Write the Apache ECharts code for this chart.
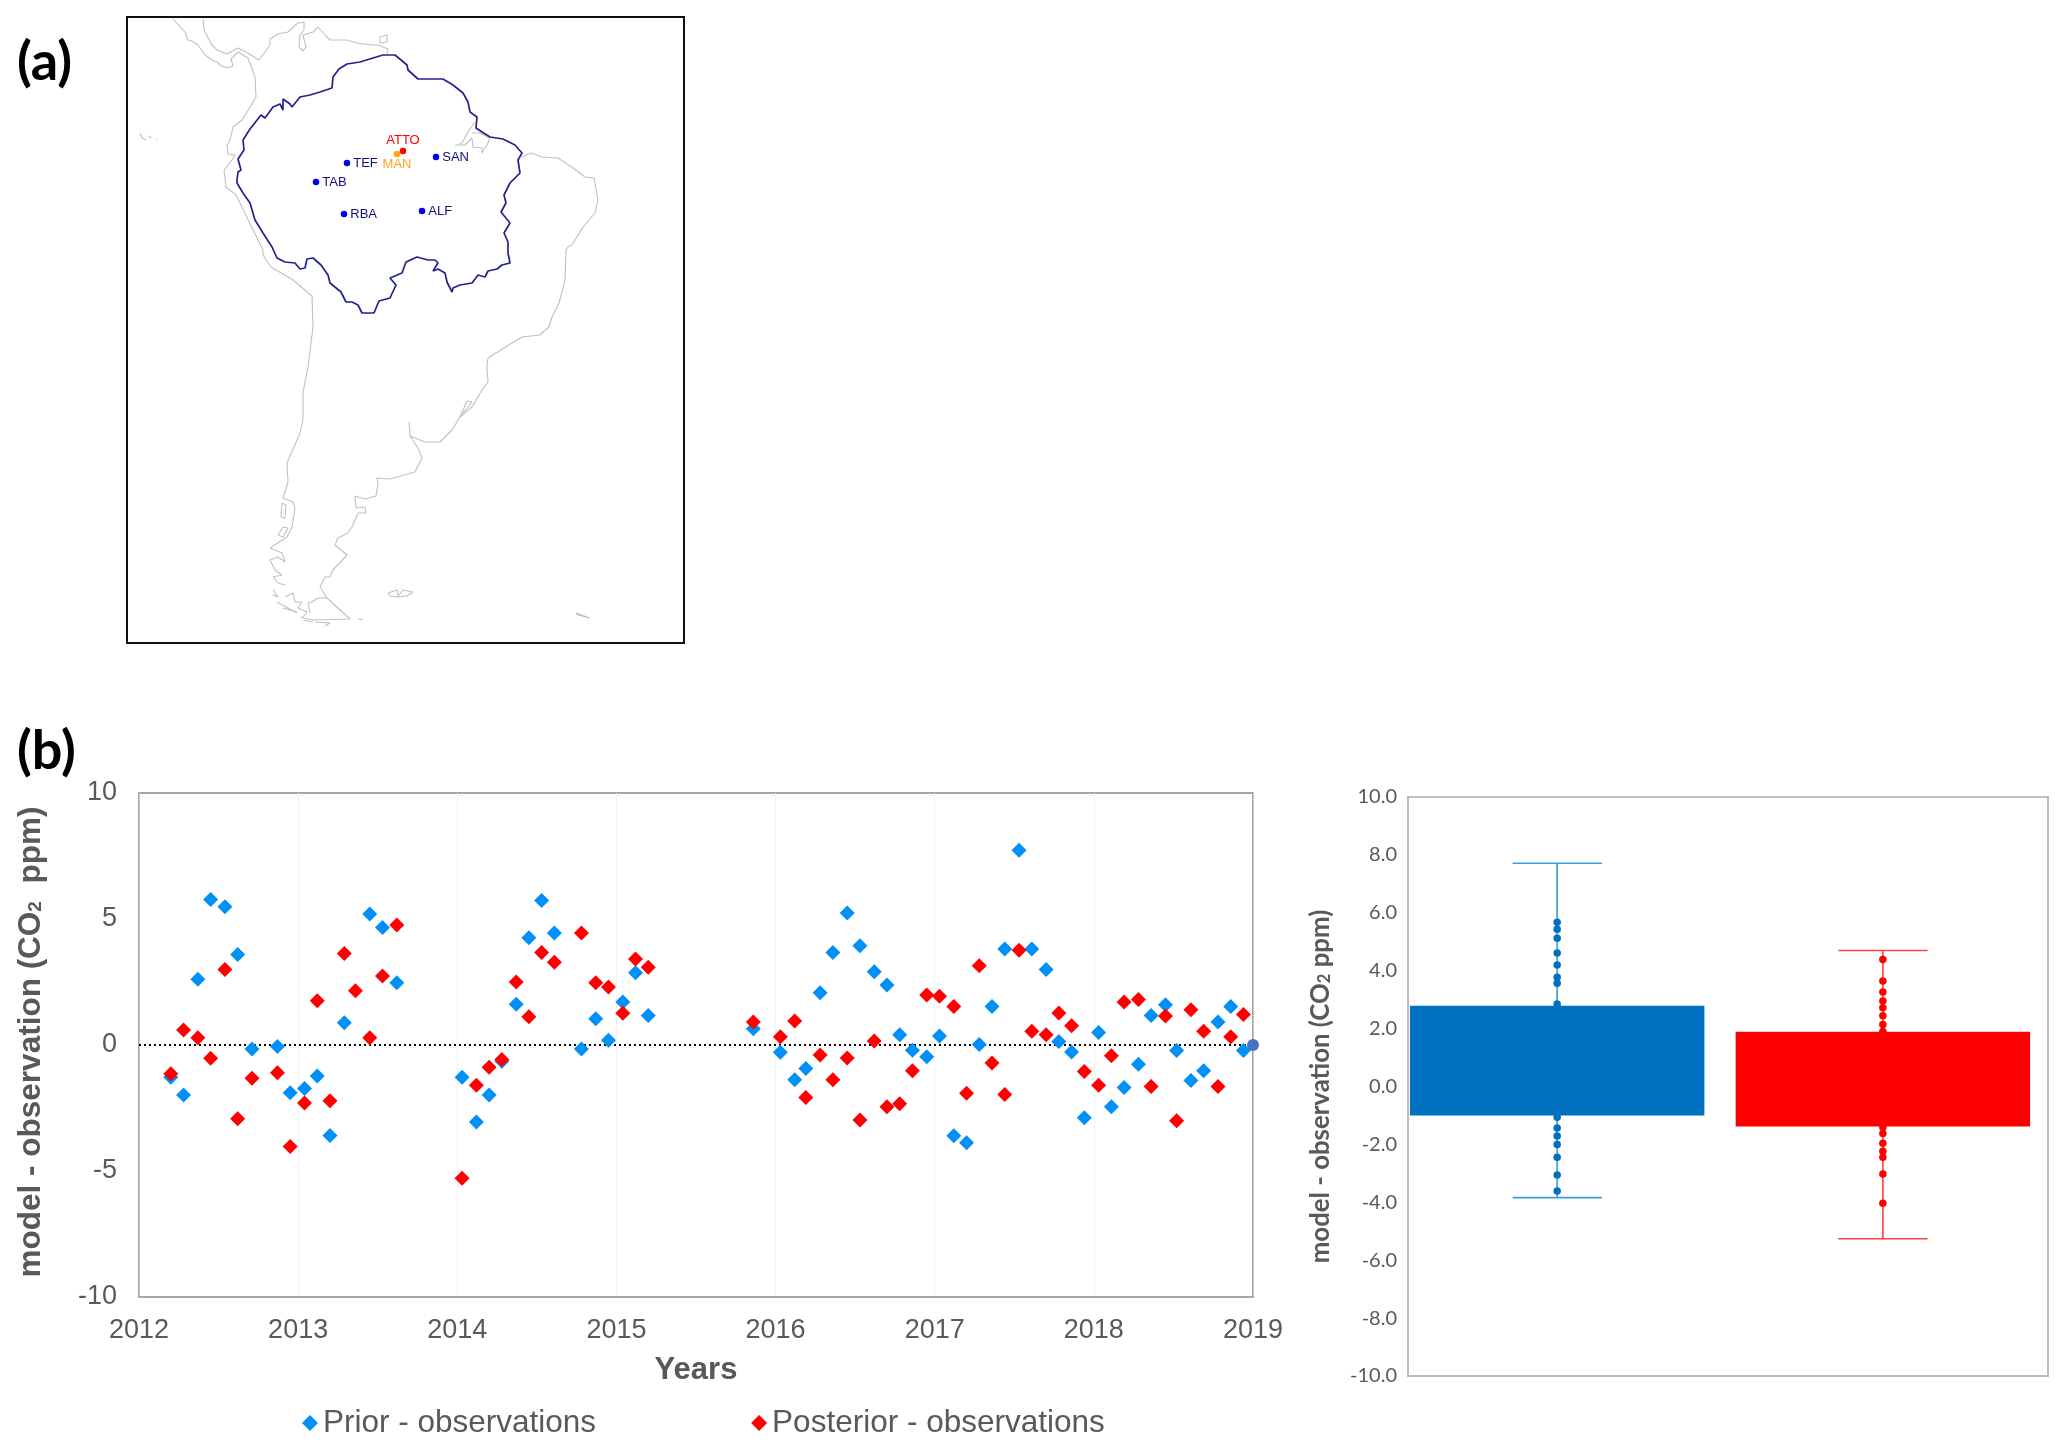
<!DOCTYPE html>
<html>
<head>
<meta charset="utf-8">
<style>html,body{margin:0;padding:0;background:#fff}#c{width:2067px;height:1450px}</style>
<script src="https://cdn.jsdelivr.net/npm/echarts@6/dist/echarts.min.js"></script>
</head>
<body>
<div id="c"></div>
<script>
// ---- time series, panel (b) left: [decimal year, ppm]
const prior = [
[2012.20,-1.28],[2012.28,-1.98],[2012.37,2.61],[2012.45,5.77],[2012.54,5.49],[2012.62,3.59],[2012.71,-0.16],[2012.87,-0.06],[2012.95,-1.89],
[2013.04,-1.73],[2013.12,-1.23],[2013.20,-3.59],[2013.29,0.88],[2013.45,5.20],[2013.53,4.66],[2013.62,2.47],
[2014.03,-1.28],[2014.12,-3.06],[2014.20,-1.98],[2014.28,-0.64],[2014.37,1.62],[2014.45,4.26],[2014.53,5.73],[2014.61,4.44],[2014.78,-0.16],[2014.87,1.04],[2014.95,0.19],
[2015.04,1.71],[2015.12,2.87],[2015.20,1.17],[2015.86,0.64],
[2016.03,-0.29],[2016.12,-1.38],[2016.19,-0.93],[2016.28,2.07],[2016.36,3.67],[2016.45,5.24],[2016.53,3.94],[2016.62,2.91],[2016.70,2.38],[2016.78,0.41],[2016.86,-0.21],[2016.95,-0.47],
[2017.03,0.36],[2017.12,-3.60],[2017.20,-3.88],[2017.28,0.02],[2017.36,1.53],[2017.44,3.81],[2017.53,7.73],[2017.61,3.81],[2017.70,3.00],[2017.78,0.14],[2017.86,-0.28],[2017.94,-2.89],
[2018.03,0.50],[2018.11,-2.45],[2018.19,-1.69],[2018.28,-0.76],[2018.36,1.17],[2018.45,1.60],[2018.52,-0.22],[2018.61,-1.41],[2018.69,-1.02],[2018.78,0.91],[2018.86,1.53],[2018.94,-0.22]
];
const posterior = [
[2012.20,-1.14],[2012.28,0.60],[2012.37,0.29],[2012.45,-0.53],[2012.54,3.00],[2012.62,-2.93],[2012.71,-1.32],[2012.87,-1.10],[2012.95,-4.03],
[2013.04,-2.30],[2013.12,1.76],[2013.20,-2.21],[2013.29,3.63],[2013.36,2.15],[2013.45,0.29],[2013.53,2.74],[2013.62,4.76],
[2014.03,-5.29],[2014.12,-1.60],[2014.20,-0.88],[2014.28,-0.58],[2014.37,2.50],[2014.45,1.12],[2014.53,3.67],[2014.61,3.28],[2014.78,4.44],[2014.87,2.47],[2014.95,2.30],
[2015.04,1.26],[2015.12,3.41],[2015.20,3.09],[2015.86,0.91],
[2016.03,0.33],[2016.12,0.95],[2016.19,-2.08],[2016.28,-0.40],[2016.36,-1.38],[2016.45,-0.52],[2016.53,-2.98],[2016.62,0.16],[2016.70,-2.45],[2016.78,-2.33],[2016.86,-1.02],[2016.95,1.98],
[2017.03,1.93],[2017.12,1.53],[2017.20,-1.91],[2017.28,3.14],[2017.36,-0.71],[2017.44,-1.96],[2017.53,3.76],[2017.61,0.55],[2017.70,0.41],[2017.78,1.27],[2017.86,0.76],[2017.94,-1.05],
[2018.03,-1.60],[2018.11,-0.43],[2018.19,1.71],[2018.28,1.81],[2018.36,-1.65],[2018.45,1.15],[2018.52,-3.01],[2018.61,1.40],[2018.69,0.55],[2018.78,-1.65],[2018.86,0.33],[2018.94,1.21]
];
const zeroLine = [[2012,0],[2019,0]];
const endPoint = [[2019,0]];

// ---- box panel: statistics [position, q1, q3, whisker low, whisker high]
const priorBox = [0, -1.0, 2.79, -3.84, 7.71];
const posteriorBox = [1, -1.38, 1.89, -5.26, 4.70];
const priorDots = [5.67,5.43,5.12,4.61,4.20,3.77,3.57,2.85,-1.06,-1.43,-1.71,-2.0,-2.44,-3.06,-3.61];
const posteriorDots = [4.39,3.64,3.26,2.95,2.72,2.44,2.14,1.90,-1.41,-1.62,-1.96,-2.24,-2.44,-3.02,-4.03];

// ---- map panel (a), traced outlines in map units
const coastPacificNorth = [[173,19],[185,32],[188,40],[192,41],[198,45],[205,55],[212,60],[217,62],[220,65],[227,68],[233,66],[231,59],[238,52],[248,58],[255,77],[256,97],[250,107],[242,120],[233,127],[230,140],[227,145],[228,154],[235,155],[232,160],[224,170],[226,187],[236,195],[263,250],[263,255],[271,267],[293,280],[312,296],[313,327],[308,367],[303,392],[303,420],[300,433],[287,463],[288,482],[283,498],[293,502],[295,508],[292,527],[287,537],[270,548]];
const coastCaribbean = [[203,19],[204,30],[212,45],[217,50],[227,54],[238,48],[248,53],[259,60],[270,45],[270,39],[278,34],[288,32],[298,23],[304,22],[304,30],[300,35],[299,47],[303,51],[306,47],[303,35],[313,32],[318,27],[327,37],[330,40],[347,40],[357,43],[372,45],[378,45],[388,49],[387,54]];
const coastAtlantic = [[522,157],[531,153],[542,157],[558,158],[573,168],[585,177],[594,178],[598,200],[595,213],[583,227],[572,245],[568,247],[566,250],[565,280],[563,288],[559,303],[552,317],[549,327],[543,332],[540,335],[522,337],[512,343],[488,358],[487,367],[488,382],[482,390],[472,407],[460,417],[452,430],[440,442],[425,442],[410,436],[418,448],[422,458],[415,472],[390,479],[377,478],[378,483],[376,496],[365,499],[355,496],[356,508],[365,507],[366,513],[358,513],[352,527],[348,533],[338,538],[335,545],[347,555],[333,570],[330,577],[325,577],[320,587],[327,598],[318,598],[312,602],[308,603],[310,613]];
const riverPlate = [[460,417],[467,401],[472,402],[463,413]];
const plataEnd = [[410,436],[409,422]];
const fuego = [[327,598],[350,619],[313,620],[300,617]];
const amazonMouthA = [[455,146],[462,143],[468,132],[475,122]];
const amazonMouthB = [[472,133],[480,133],[490,138],[487,145],[482,153],[482,148],[473,147],[472,138],[465,145],[460,145]];
const trinidad = [[380,37],[387,35],[387,42],[380,43],[380,37]];
const galapagos = [[140,133],[142,138],[146,140]];
const galapagosB = [[149,136],[151,138]];
const galapagosC = [[156,139],[157,140]];
const chileA = [[282,503],[281,517],[285,518],[286,505],[282,503]];
const chileB = [[278,535],[283,527],[288,528],[283,537],[278,535]];
const chileC = [[270,548],[282,553],[285,562],[278,557],[270,560],[275,570],[282,575],[273,577],[278,583],[285,585]];
const chileD = [[273,590],[278,597],[273,595]];
const chileE = [[285,597],[293,593],[295,602],[302,602],[298,608],[307,612],[303,617]];
const chileF = [[277,602],[297,613]];
const chileG = [[283,608],[297,612]];
const chileH = [[303,620],[313,622]];
const chileI = [[315,622],[330,623],[325,626]];
const staten = [[358,619],[363,620]];
const falklands = [[388,593],[397,590],[398,596],[403,590],[413,592],[407,596],[398,597],[390,596],[388,593]];
const southGeorgia = [[576,613],[590,618],[590,620],[578,615],[576,613]];
const amazonBasin = [[237,180],[238,172],[241,170],[238,159],[244,150],[243,140],[250,129],[261,115],[265,118],[273,107],[280,104],[283,110],[283,99],[290,104],[292,107],[300,97],[310,95],[320,92],[332,88],[333,77],[339,69],[347,64],[360,62],[373,58],[383,55],[395,55],[407,65],[408,70],[418,79],[429,79],[443,79],[453,85],[463,93],[468,102],[470,112],[477,117],[476,128],[482,132],[490,137],[503,139],[515,145],[522,153],[518,160],[520,173],[510,183],[504,195],[506,203],[501,212],[510,223],[504,233],[508,242],[508,253],[510,263],[502,265],[497,269],[488,271],[485,277],[478,275],[472,283],[460,285],[453,288],[452,292],[447,282],[445,273],[438,269],[433,271],[438,263],[435,260],[428,260],[417,257],[406,262],[402,273],[390,278],[396,285],[390,298],[379,301],[374,313],[362,313],[358,305],[352,302],[346,302],[341,292],[330,283],[328,275],[321,265],[313,258],[307,259],[305,268],[300,269],[295,263],[285,262],[277,258],[272,247],[263,233],[255,220],[250,203],[243,193],[237,183],[237,180]];
const coastLines = [coastPacificNorth,coastCaribbean,coastAtlantic,riverPlate,plataEnd,fuego,amazonMouthA,amazonMouthB,trinidad,galapagos,galapagosB,galapagosC,chileA,chileB,chileC,chileD,chileE,chileF,chileG,chileH,chileI,staten,falklands,southGeorgia];

const blueSites = [[347,163,'TEF'],[316,182,'TAB'],[344,214,'RBA'],[422,211,'ALF'],[436,157,'SAN']];
const attoSite = [[403,151,'ATTO']];
const manSite = [[397,154,'MAN']];

const GREY = '#595959';
const ARIAL = '"Liberation Sans", Arial, sans-serif';
const LATO = 'Lato, "Open Sans", sans-serif';

function yName(size, subSize, family, text, shift){
  return {
    name: text, nameLocation:'middle', nameRotate:90,
    nameTextStyle:{fontFamily:family,fontSize:size,fontWeight:'bold',color:GREY,padding:[0,0,0,shift],
      rich:{sub:{fontFamily:family,fontSize:subSize,fontWeight:'bold',color:GREY,padding:[Math.round(size*0.3),0,0,0]}}}
  };
}

const renderWhisker = (params, api) => {
  const x = api.value(0), lo = api.value(3), hi = api.value(4);
  const color = api.value(0) === 0 ? '#3C9BDC' : '#FF4040';
  const capHalf = 0.137;
  const style = {stroke:color, lineWidth:1.6, fill:null};
  const seg = (a,b)=>({type:'line',shape:{x1:a[0],y1:a[1],x2:b[0],y2:b[1]},style});
  return {type:'group',children:[
    seg(api.coord([x,lo]),api.coord([x,hi])),
    seg(api.coord([x-capHalf,lo]),api.coord([x+capHalf,lo])),
    seg(api.coord([x-capHalf,hi]),api.coord([x+capHalf,hi]))
  ]};
};
const renderBox = (params, api) => {
  const x = api.value(0), q1 = api.value(1), q3 = api.value(2);
  const a = api.coord([x-0.452,q3]), b = api.coord([x+0.452,q1]);
  return {type:'rect',shape:{x:a[0],y:a[1],width:b[0]-a[0],height:b[1]-a[1]},
    style:{fill:x===0?'#0070C0':'#FF0000'}};
};

const series = [];
coastLines.forEach(pts=>series.push({type:'line',xAxisIndex:0,yAxisIndex:0,data:pts,showSymbol:false,silent:true,z:2,lineStyle:{color:'#C0C0C0',width:1.1}}));
series.push({type:'line',xAxisIndex:0,yAxisIndex:0,data:amazonBasin,showSymbol:false,silent:true,z:3,lineStyle:{color:'#22228F',width:1.7}});
const siteLabel = (color,pos,off)=>({show:true,position:pos,distance:off,formatter:p=>p.data[2],fontFamily:ARIAL,fontSize:13,color});
series.push({type:'scatter',xAxisIndex:0,yAxisIndex:0,data:blueSites,symbolSize:6.5,itemStyle:{color:'#0000F0',opacity:1},label:siteLabel('#10107A','right',3),z:4});
series.push({type:'scatter',xAxisIndex:0,yAxisIndex:0,data:attoSite,symbolSize:6.5,itemStyle:{color:'#FF0000',opacity:1},label:siteLabel('#FF0000','top',1),z:5});
series.push({type:'scatter',xAxisIndex:0,yAxisIndex:0,data:manSite,symbolSize:6.5,itemStyle:{color:'#FFA31A',opacity:1},label:siteLabel('#FFA31A','bottom',1),z:5});

series.push({type:'line',xAxisIndex:1,yAxisIndex:1,data:zeroLine,showSymbol:false,silent:true,z:2,lineStyle:{color:'#000',width:2,type:[2,3]}});
series.push({name:'Prior - observations',type:'scatter',xAxisIndex:1,yAxisIndex:1,data:prior,symbol:'diamond',symbolSize:15,itemStyle:{color:'#0090F8',opacity:1},z:3});
series.push({name:'Posterior - observations',type:'scatter',xAxisIndex:1,yAxisIndex:1,data:posterior,symbol:'diamond',symbolSize:15,itemStyle:{color:'#FF0000',opacity:1},z:4});
series.push({type:'scatter',xAxisIndex:1,yAxisIndex:1,data:endPoint,symbolSize:12,clip:false,itemStyle:{color:'#4472C4',opacity:1},z:5});

[priorBox,posteriorBox].forEach(b=>series.push({type:'custom',xAxisIndex:2,yAxisIndex:2,data:[b],renderItem:renderWhisker,z:1,silent:true,clip:false}));
series.push({type:'scatter',xAxisIndex:2,yAxisIndex:2,data:priorDots.map(v=>[priorBox[0],v]),symbolSize:7.5,itemStyle:{color:'#0070C0',opacity:1},z:2});
series.push({type:'scatter',xAxisIndex:2,yAxisIndex:2,data:posteriorDots.map(v=>[posteriorBox[0],v]),symbolSize:7.5,itemStyle:{color:'#FF0000',opacity:1},z:2});
[priorBox,posteriorBox].forEach(b=>series.push({type:'custom',xAxisIndex:2,yAxisIndex:2,data:[b],renderItem:renderBox,z:3,silent:true,clip:false}));

const option = {
  animation:false,
  backgroundColor:'#fff',
  title:[
    {text:'(a)',left:12,top:31,textStyle:{fontFamily:LATO,fontSize:54,fontWeight:'bold',color:'#000'}},
    {text:'(b)',left:12,top:720,textStyle:{fontFamily:LATO,fontSize:54,fontWeight:'bold',color:'#000'}}
  ],
  legend:{
    data:['Prior - observations','Posterior - observations'],
    left:297, top:1402, itemWidth:16, itemHeight:16, itemGap:155, icon:'diamond',
    textStyle:{fontFamily:ARIAL,fontSize:31.5,color:GREY}
  },
  grid:[
    {left:127,top:17,width:557,height:626,show:true,borderColor:'#111',borderWidth:2,backgroundColor:'#fff'},
    {left:139,top:793,width:1114,height:504,show:true,borderColor:'#A6A6A6',borderWidth:2,backgroundColor:'#fff'},
    {left:1408,top:797,width:640,height:579,show:true,borderColor:'#BDBDBD',borderWidth:2,backgroundColor:'#fff'}
  ],
  xAxis:[
    {gridIndex:0,type:'value',min:127,max:684,show:false},
    {gridIndex:1,type:'value',min:2012,max:2019,interval:1,
      name:'Years',nameLocation:'middle',nameGap:58,
      nameTextStyle:{fontFamily:ARIAL,fontSize:31,fontWeight:'bold',color:GREY},
      axisLine:{show:false},axisTick:{show:false},
      axisLabel:{formatter:v=>String(v),fontFamily:ARIAL,fontSize:27,color:GREY,margin:20},
      splitLine:{show:true,lineStyle:{color:'#E3E3E3',width:1,type:'dotted'}}},
    {gridIndex:2,type:'value',min:-0.458,max:1.507,show:false}
  ],
  yAxis:[
    {gridIndex:0,type:'value',min:17,max:643,inverse:true,show:false},
    Object.assign({gridIndex:1,type:'value',min:-10,max:10,interval:5,nameGap:92,
      axisLine:{show:false},axisTick:{show:false},splitLine:{show:false},
      axisLabel:{fontFamily:ARIAL,fontSize:27,color:GREY,margin:22,padding:[2,0,0,0]}},
      yName(31.5,19,ARIAL,'model - observation (CO{sub|2}  ppm)',6)),
    Object.assign({gridIndex:2,type:'value',min:-10,max:10,interval:2,nameGap:74,
      axisLine:{show:false},axisTick:{show:false},splitLine:{show:false},
      axisLabel:{formatter:v=>v.toFixed(1),fontFamily:LATO,fontSize:20,color:GREY,margin:11,padding:[4,0,0,0]}},
      yName(25.8,16.5,LATO,'model - observation (CO{sub|2} ppm)',0))
  ],
  series
};
echarts.init(document.getElementById('c'),null,{renderer:'canvas'}).setOption(option);
</script>
</body>
</html>
